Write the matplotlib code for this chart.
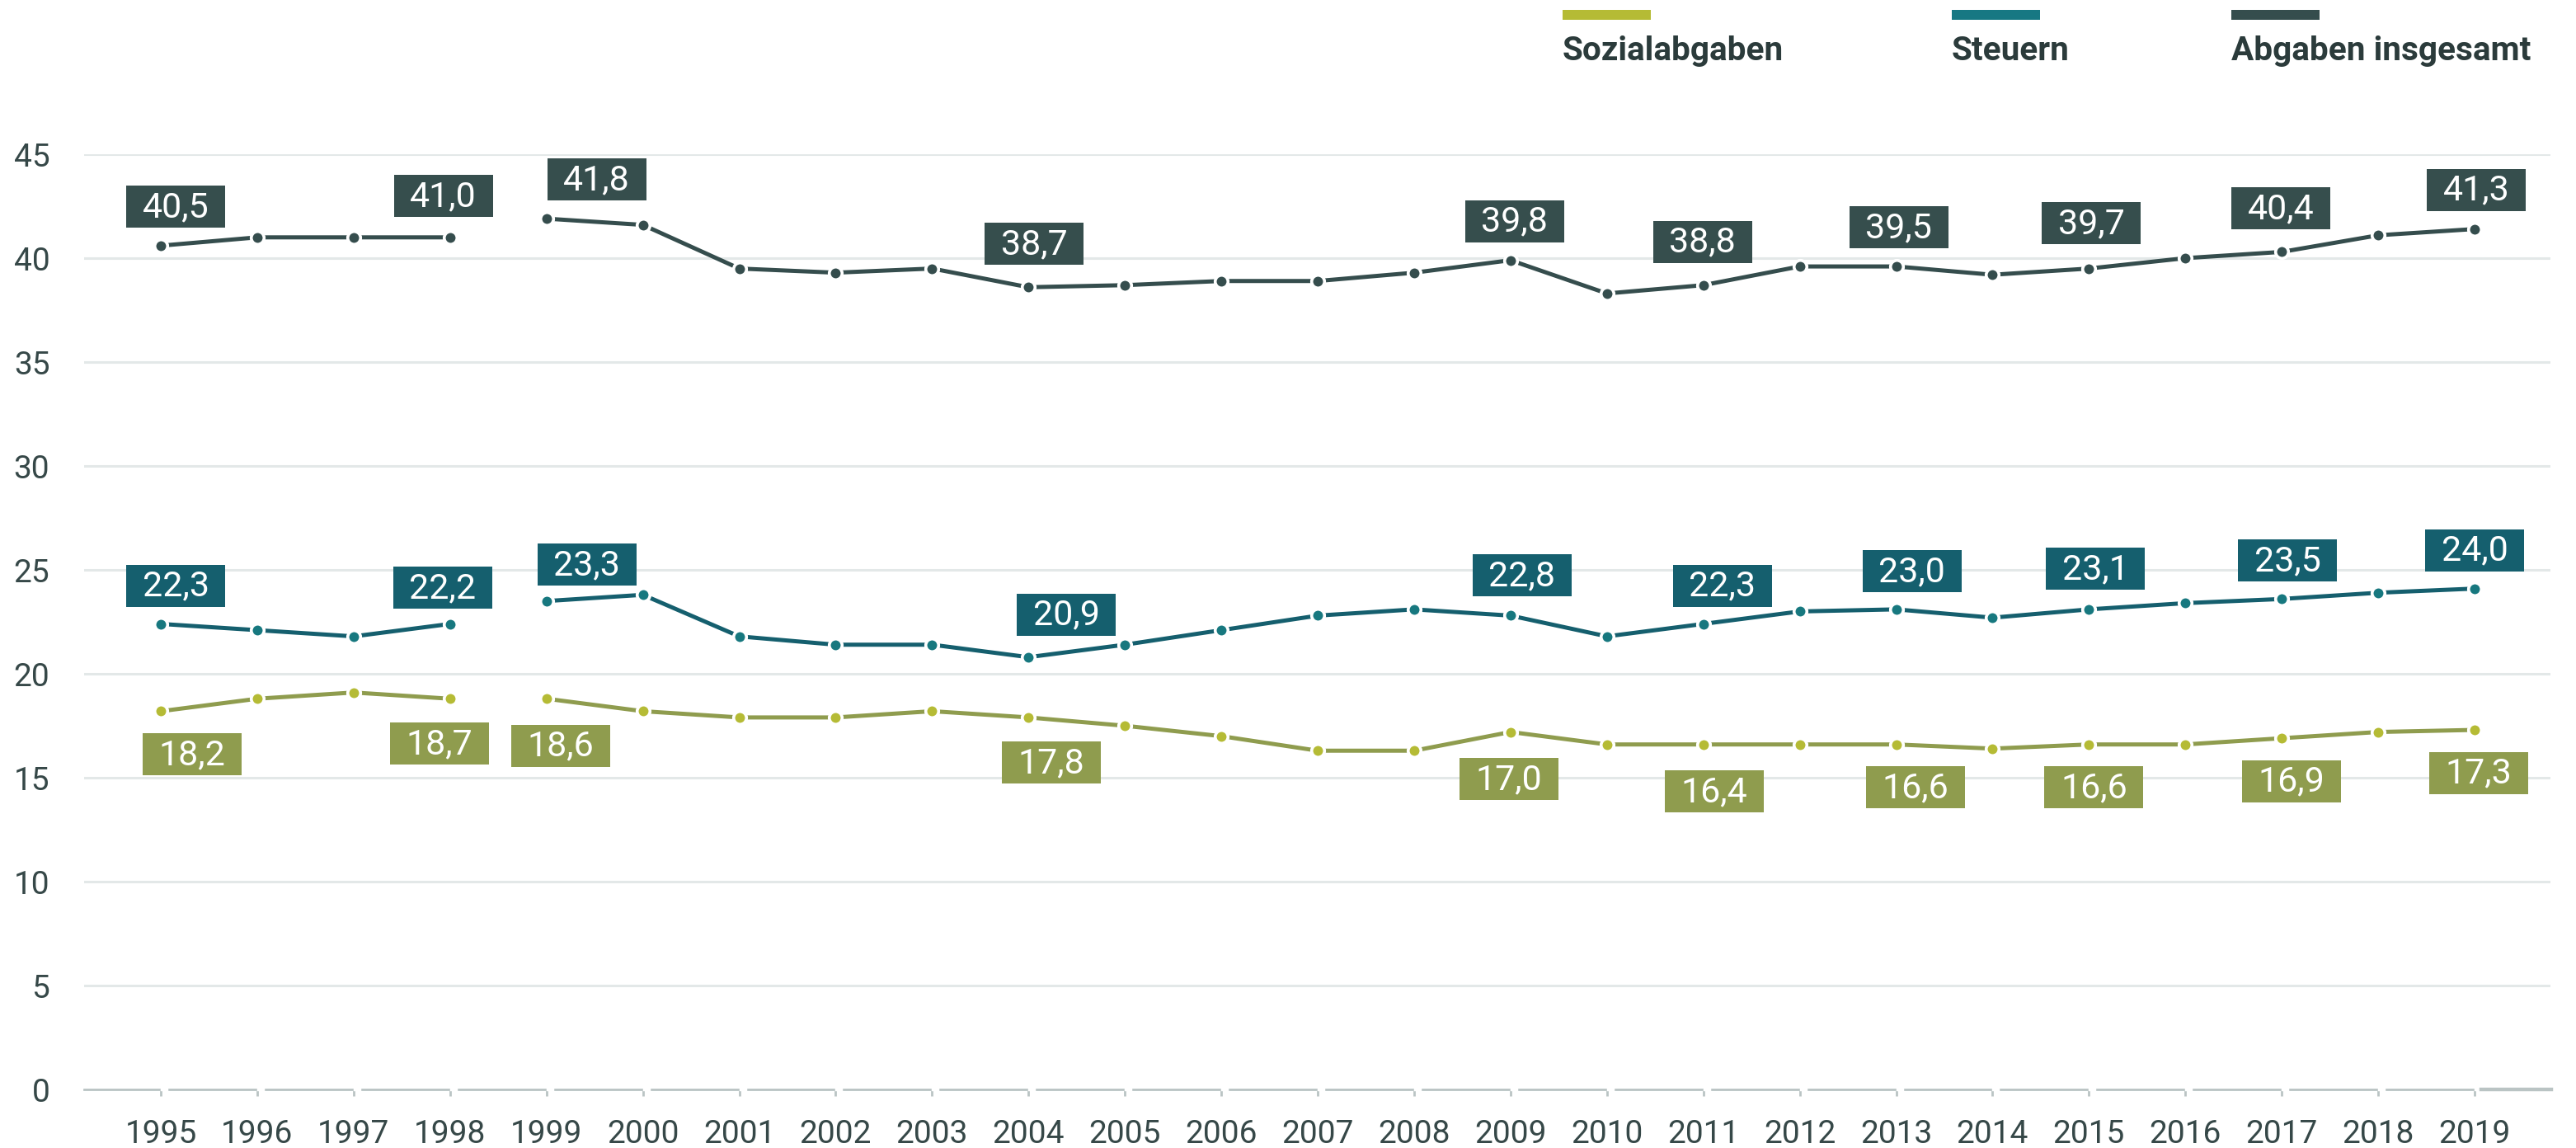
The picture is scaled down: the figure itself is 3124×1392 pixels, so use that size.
import matplotlib
matplotlib.use("Agg")
import matplotlib.pyplot as plt
import matplotlib.transforms as mtransforms
from matplotlib.patches import Rectangle
from matplotlib.lines import Line2D

# ---------------- data ----------------
years = list(range(1995, 2020))
sozialabgaben = [18.2, 18.8, 19.1, 18.8, 18.8, 18.2, 17.9, 17.9, 18.2, 17.9, 17.5, 17.0,
                 16.3, 16.3, 17.2, 16.6, 16.6, 16.6, 16.6, 16.4, 16.6, 16.6, 16.9, 17.2, 17.3]
steuern = [22.4, 22.1, 21.8, 22.4, 23.5, 23.8, 21.8, 21.4, 21.4, 20.8, 21.4, 22.1,
           22.8, 23.1, 22.8, 21.8, 22.4, 23.0, 23.1, 22.7, 23.1, 23.4, 23.6, 23.9, 24.1]
gesamt = [40.6, 41.0, 41.0, 41.0, 41.9, 41.6, 39.5, 39.3, 39.5, 38.6, 38.7, 38.9,
          38.9, 39.3, 39.9, 38.3, 38.7, 39.6, 39.6, 39.2, 39.5, 40.0, 40.3, 41.1, 41.4]

label_years = [1995, 1998, 1999, 2004, 2009, 2011, 2013, 2015, 2017, 2019]
gesamt_labels = ["40,5", "41,0", "41,8", "38,7", "39,8", "38,8", "39,5", "39,7", "40,4", "41,3"]
steuern_labels = ["22,3", "22,2", "23,3", "20,9", "22,8", "22,3", "23,0", "23,1", "23,5", "24,0"]
sozial_labels = ["18,2", "18,7", "18,6", "17,8", "17,0", "16,4", "16,6", "16,6", "16,9", "17,3"]

series_names = ["Sozialabgaben", "Steuern", "Abgaben insgesamt"]
yticks = [0, 5, 10, 15, 20, 25, 30, 35, 40, 45]

# ---------------- layout / style ----------------
DPI = 200
W, H = 3124, 1392
line_colors = {"Sozialabgaben": "#8f9c4e", "Steuern": "#155f6e", "Abgaben insgesamt": "#354d4d"}
marker_colors = {"Sozialabgaben": "#b5bb35", "Steuern": "#17787f", "Abgaben insgesamt": "#354d4d"}
legend_colors = {"Sozialabgaben": "#b5bb35", "Steuern": "#177883", "Abgaben insgesamt": "#354d4d"}
text_color = "#364848"
axis_color = "#bac4c4"
# label box horizontal shifts (pixels) and vertical offset (pixels)
gesamt_dx = [18, -8, 61, 7, 5, -1, 3, 3, -1, 2]
steuern_dx = [18, -9, 49, 46, 14, 23, 19, 8, 7, 0]
sozial_dx = [38, -13, 17, 28, -2, 13, 23, 6, 12, 5]
BOX_W, BOX_H = 120, 51
break_after = 1998

plt.rcParams["font.family"] = ["Roboto", "DejaVu Sans"]

fig = plt.figure(figsize=(W / DPI, H / DPI), dpi=DPI)
ax_left, ax_right = 102 / W, 3093 / W
ax_bottom, ax_top = 1 - 1321 / H, 1 - 187 / H
ax = fig.add_axes([ax_left, ax_bottom, ax_right - ax_left, ax_top - ax_bottom])

x = list(range(len(years)))
ax.set_xlim(-0.796, len(years) - 1 + 0.787)
ax.set_ylim(0, 45)

# grid
ax.set_yticks(yticks)
ax.yaxis.grid(True, color="#e3e8e8", linewidth=1.1, zorder=0)
ax.set_axisbelow(True)
for s in ["top", "right", "left"]:
    ax.spines[s].set_visible(False)
ax.spines["bottom"].set_color(axis_color)
ax.spines["bottom"].set_linewidth(1.0)
ax.tick_params(axis="y", length=0, pad=15, labelsize=14, labelcolor=text_color)
ax.tick_params(axis="x", length=2.8, width=1.0, color=axis_color, pad=10,
               labelsize=14, labelcolor=text_color)
ax.set_xticks(x)
ax.set_xticklabels([str(y) for y in years])

# small gaps in the baseline just right of each tick
for xi in x:
    base = mtransforms.ScaledTranslation(xi, 0, ax.transData)
    ax.add_line(Line2D([2, 7], [0, 0], color="white", linewidth=1.6,
                       transform=mtransforms.IdentityTransform() + base,
                       clip_on=False, zorder=2.6))
# slightly heavier closing segment after the last category
base_last = mtransforms.ScaledTranslation(x[-1], 0, ax.transData)
ax.add_line(Line2D([8, 93], [0, 0], color=axis_color, linewidth=1.6,
                   transform=mtransforms.IdentityTransform() + base_last,
                   clip_on=False, zorder=2.7))

# lines
split = years.index(break_after) + 1
data = {"Sozialabgaben": sozialabgaben, "Steuern": steuern, "Abgaben insgesamt": gesamt}
for name in series_names:
    vals = data[name]
    for seg in (slice(0, split), slice(split, len(years))):
        ax.plot(x[seg], vals[seg], color=line_colors[name], linewidth=1.8,
                marker="o", markersize=5.6, markerfacecolor=marker_colors[name],
                markeredgecolor="white", markeredgewidth=1.3, zorder=3,
                solid_capstyle="butt")

# value labels
def draw_labels(texts, dxs, color, dy_px):
    for yr, t, dx in zip(label_years, texts, dxs):
        xi = years.index(yr)
        v = float(t.replace(",", "."))
        base = mtransforms.ScaledTranslation(xi, v, ax.transData)
        tr = mtransforms.Affine2D().translate(dx, dy_px) + base
        rect = Rectangle((-BOX_W / 2, -BOX_H / 2), BOX_W, BOX_H, facecolor=color,
                         edgecolor="none", transform=tr, zorder=5, clip_on=False)
        ax.add_patch(rect)
        tt = mtransforms.Affine2D().translate(dx, dy_px - 12.5) + base
        ax.text(0, 0, t, transform=tt, ha="center", va="baseline", color="white",
                fontsize=15.5, zorder=6, clip_on=False)

draw_labels(gesamt_labels, gesamt_dx, "#364e4d", 50)
draw_labels(steuern_labels, steuern_dx, "#155f6e", 49)
draw_labels(sozial_labels, sozial_dx, "#8f9c4e", -52)

# legend
legend_x = [1895, 2367, 2706]
for name, lx in zip(series_names, legend_x):
    fig.patches.append(Rectangle((lx / W, 1 - 24 / H), 107 / W, 12 / H,
                                 facecolor=legend_colors[name], edgecolor="none",
                                 transform=fig.transFigure))
    fig.text(lx / W, 1 - 62 / H, name, ha="left", va="center", fontsize=14.6,
             fontweight="bold", color="#2b3b3b")

fig.savefig("out.png", dpi=DPI, facecolor="white")
